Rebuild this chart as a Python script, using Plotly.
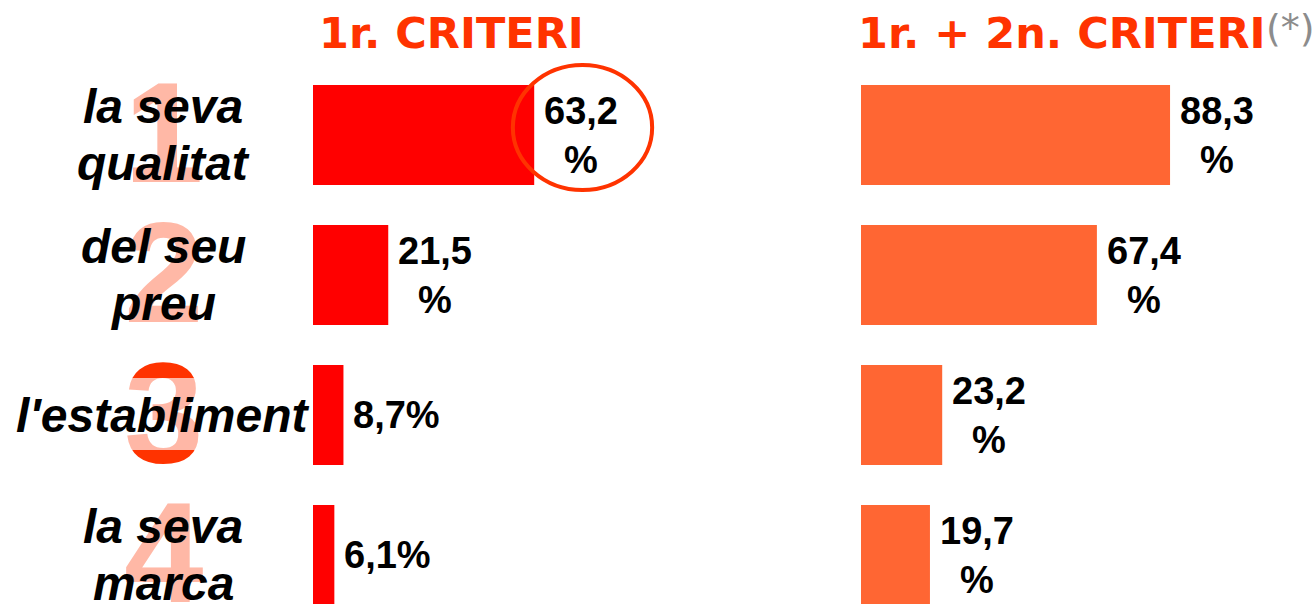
import plotly.graph_objects as go

categories = ["la seva<br>qualitat", "del seu<br>preu", "l'establiment", "la seva<br>marca"]
ranks = ["1", "2", "3", "4"]
first_criteria = [63.2, 21.5, 8.7, 6.1]
first_second_criteria = [88.3, 67.4, 23.2, 19.7]
titles = ["1r. CRITERI", "1r. + 2n. CRITERI"]
title_note = "(*)"

W, H = 1315, 604
RED = "#FF0000"
ORANGE = "#FF6633"
TITLE_COL = "#FF3300"
PALE = "#FFB8A6"

def fmt(v):
    s = f"{v:.1f}".replace(".", ",")
    return f"{s}<br>%" if v >= 10 else f"{s}%"

def px_x(p):
    return p / W

def px_y(p):
    return 1 - p / H

fig = go.Figure()
fig.add_trace(go.Bar(y=categories, x=first_criteria, orientation="h",
                     marker=dict(color=RED, line=dict(width=0)),
                     xaxis="x", yaxis="y", width=0.714, hoverinfo="skip"))
fig.add_trace(go.Bar(y=categories, x=first_second_criteria, orientation="h",
                     marker=dict(color=ORANGE, line=dict(width=0)),
                     xaxis="x2", yaxis="y2", width=0.714, hoverinfo="skip"))

ytop = 65
ydom = [0, px_y(ytop)]
yrange = [-0.5 + (H - ytop) / 140, -0.5]

axis_common = dict(showgrid=False, zeroline=False, showticklabels=False,
                   showline=False, ticks="")
fig.update_layout(
    width=W, height=H,
    margin=dict(l=0, r=0, t=0, b=0),
    paper_bgcolor="white", plot_bgcolor="white",
    showlegend=False,
    xaxis=dict(domain=[px_x(313), px_x(663)], range=[0, 100], **axis_common),
    xaxis2=dict(domain=[px_x(861), px_x(1211)], range=[0, 100], **axis_common),
    yaxis=dict(domain=ydom, range=yrange, anchor="x", **axis_common),
    yaxis2=dict(domain=ydom, range=yrange, anchor="x2", matches="y", **axis_common),
)

ann = []
# big rank digits behind labels
for cat, r in zip(categories, ranks):
    ann.append(dict(xref="paper", yref="y", x=px_x(164), y=cat, text=f"<b>{r}</b>",
                    showarrow=False, xanchor="center", yanchor="middle", yshift=3,
                    font=dict(family="Liberation Sans Narrow, Liberation Sans", size=143,
                              color=TITLE_COL if r == "3" else PALE)))
# lighten middle band of the "3"
ann.append(dict(xref="paper", yref="paper", x=px_x(165), y=px_y(414), text=" ",
                showarrow=False, width=80, height=72, borderpad=0, borderwidth=0,
                bgcolor="rgba(255,255,255,0.65)", xanchor="center", yanchor="middle",
                font=dict(size=10)))
# category labels (each line placed separately for tight line spacing)
LINE = 57
for cat in categories:
    lines = cat.split("<br>")
    n = len(lines)
    for i, ln in enumerate(lines):
        off = (i - (n - 1) / 2) * LINE
        ann.append(dict(xref="paper", yref="y", x=px_x(163), y=cat,
                        text=f"<b><i>{ln}</i></b>", showarrow=False,
                        xanchor="center", yanchor="middle", yshift=-off,
                        font=dict(family="Liberation Sans, Arial", size=48, color="black")))
# value labels
for xa, ya, vals in (("x", "y", first_criteria), ("x2", "y2", first_second_criteria)):
    for cat, v in zip(categories, vals):
        ann.append(dict(xref=xa, yref=ya, x=v, y=cat, text=f"<b>{fmt(v)}</b>",
                        showarrow=False, xanchor="left", yanchor="middle",
                        align="center", xshift=8,
                        font=dict(family="Liberation Sans, Arial", size=38, color="black")))
# titles
ann.append(dict(xref="paper", yref="paper", x=px_x(452), y=px_y(33), text=f"<b>{titles[0]}</b>",
                showarrow=False, xanchor="center", yanchor="middle",
                font=dict(family="Comic Sans MS, DejaVu Sans", size=43, color=TITLE_COL)))
ann.append(dict(xref="paper", yref="paper", x=px_x(1062), y=px_y(33), text=f"<b>{titles[1]}</b>",
                showarrow=False, xanchor="center", yanchor="middle",
                font=dict(family="Comic Sans MS, DejaVu Sans", size=43, color=TITLE_COL)))
ann.append(dict(xref="paper", yref="paper", x=px_x(1290), y=px_y(28), text=title_note,
                showarrow=False, xanchor="center", yanchor="middle",
                font=dict(family="DejaVu Sans", size=38, color="#8C8C8C")))
fig.update_layout(annotations=ann)

# highlight ring around the top first-criterion label
fig.add_shape(type="circle", xref="x", yref="paper",
              x0=57.1, x1=96.9, y0=px_y(190), y1=px_y(65),
              line=dict(color=TITLE_COL, width=4), fillcolor="rgba(0,0,0,0)", layer="above")

fig.write_html("out.html", config={"displayModeBar": False},
               post_script="document.body.style.margin='0';")
